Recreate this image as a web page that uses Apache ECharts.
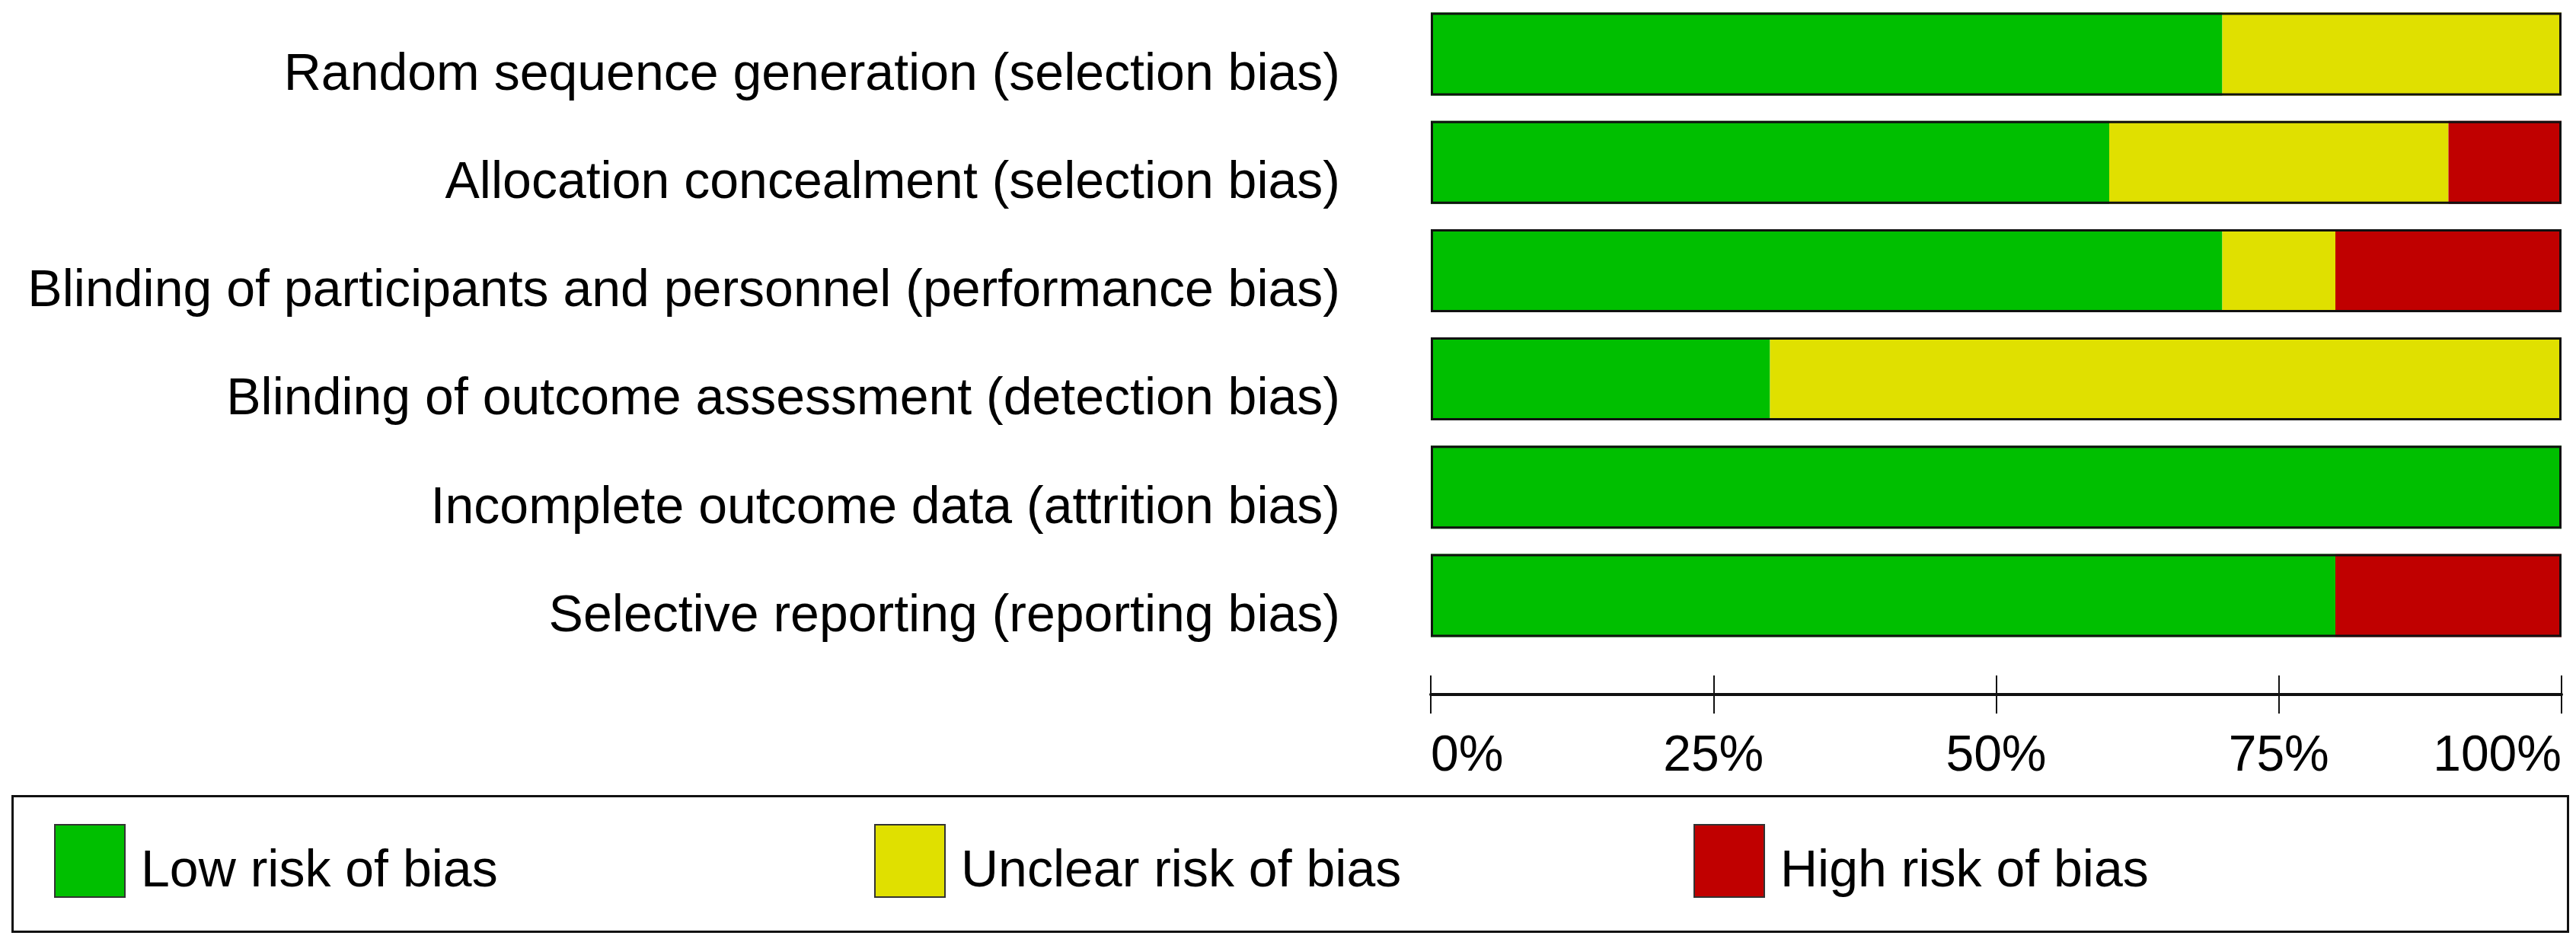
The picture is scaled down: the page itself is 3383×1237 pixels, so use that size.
<!DOCTYPE html>
<html>
<head>
<meta charset="utf-8">
<script src="https://cdn.jsdelivr.net/npm/echarts@6/dist/echarts.min.js"></script>
<style>
  html, body { margin: 0; padding: 0; background: #ffffff; }
  #chart { width: 3383px; height: 1237px; }
</style>
</head>
<body>
<div id="chart"></div>
<script>
const categories = [
  'Random sequence generation (selection bias)',
  'Allocation concealment (selection bias)',
  'Blinding of participants and personnel (performance bias)',
  'Blinding of outcome assessment (detection bias)',
  'Incomplete outcome data (attrition bias)',
  'Selective reporting (reporting bias)'
];
const lowRisk = [70, 60, 70, 30, 100, 80];
const unclearRisk = [30, 30, 10, 70, 0, 0];
const highRisk = [0, 10, 20, 0, 0, 20];
const seriesNames = ['Low risk of bias', 'Unclear risk of bias', 'High risk of bias'];
const tickValues = [0, 25, 50, 75, 100];

const FONT = 'Liberation Sans, Arial, Helvetica, sans-serif';
const colors = ['#00BF00', '#E0E000', '#C00000'];
const totals = categories.map((_, i) => lowRisk[i] + unclearRisk[i] + highRisk[i]);

const chart = echarts.init(document.getElementById('chart'), null, { renderer: 'canvas' });

const BAR_W = 109;

function seg(name, data, color) {
  return {
    name: name,
    type: 'bar',
    stack: 'risk',
    data: data,
    barWidth: BAR_W,
    barGap: '-100%',
    itemStyle: { color: color, borderWidth: 0 },
    silent: true,
    z: 2
  };
}

const legendPos = [
  { left: 71, top: 1082 },
  { left: 1148, top: 1082 },
  { left: 2224, top: 1082 }
];

const option = {
  backgroundColor: '#ffffff',
  animation: false,
  color: colors,
  grid: {
    left: 1879,
    right: 19,
    top: -7,
    bottom: 384,
    containLabel: false
  },
  xAxis: [
    {
      type: 'value',
      min: 0,
      max: 100,
      interval: 25,
      position: 'bottom',
      offset: 59,
      axisLine: { show: true, lineStyle: { color: '#111', width: 4 } },
      axisTick: { show: true, length: 25, inside: false, lineStyle: { color: '#111', width: 2 } },
      axisLabel: {
        show: true,
        margin: 49,
        fontSize: 66,
        fontFamily: FONT,
        color: '#000',
        alignMinLabel: 'left',
        alignMaxLabel: 'right',
        formatter: function (v) { return tickValues.indexOf(v) >= 0 ? v + '%' : ''; }
      },
      splitLine: { show: false }
    },
    {
      type: 'value',
      min: 0,
      max: 100,
      interval: 25,
      position: 'bottom',
      offset: 59,
      axisLine: { show: false },
      axisTick: { show: true, length: 25, inside: true, lineStyle: { color: '#111', width: 2 } },
      axisLabel: { show: false },
      splitLine: { show: false }
    }
  ],
  yAxis: {
    type: 'category',
    data: categories,
    inverse: true,
    axisLine: { show: false },
    axisTick: { show: false },
    axisLabel: {
      margin: 119,
      fontSize: 68,
      fontFamily: FONT,
      color: '#000',
      verticalAlign: 'top',
      lineHeight: 56
    }
  },
  legend: legendPos.map((p, i) => ({
    data: [seriesNames[i]],
    left: p.left,
    top: p.top,
    padding: 0,
    itemWidth: 92,
    itemHeight: 95,
    icon: 'rect',
    selectedMode: false,
    itemStyle: { borderColor: '#333', borderWidth: 2 },
    formatter: '{t|{name}}',
    textStyle: {
      fontSize: 68,
      fontFamily: FONT,
      color: '#000',
      rich: {
        t: {
          fontSize: 68,
          fontFamily: FONT,
          color: '#000',
          padding: [30, 0, 0, 16]
        }
      }
    }
  })),
  graphic: [
    {
      type: 'rect',
      left: 14,
      top: 1043,
      shape: { width: 3356, height: 178 },
      style: { fill: 'none', stroke: '#111', lineWidth: 3 },
      silent: true
    }
  ],
  series: [
    seg(seriesNames[0], lowRisk, colors[0]),
    seg(seriesNames[1], unclearRisk, colors[1]),
    seg(seriesNames[2], highRisk, colors[2]),
    {
      name: 'outline',
      type: 'bar',
      data: totals,
      barWidth: BAR_W,
      barGap: '-100%',
      itemStyle: { color: 'rgba(0,0,0,0)', borderColor: '#111', borderWidth: 3 },
      silent: true,
      z: 5
    }
  ]
};

chart.setOption(option);
</script>
</body>
</html>
